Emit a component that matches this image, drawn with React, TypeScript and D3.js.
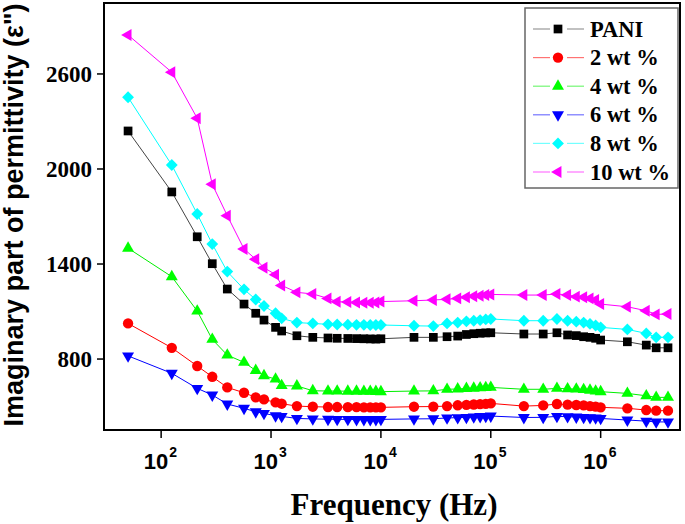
import React from "react";
import * as d3 from "d3";

const freqs = [50, 125, 213, 292, 400, 568, 726, 863, 1100, 1250, 1720, 2400, 3300, 4000, 5000, 6000, 7000, 8000, 9000, 10000,
  20000, 30000, 40000, 50000, 60000, 70000, 80000, 90000, 100000,
  200000, 300000, 400000, 500000, 600000, 700000, 800000, 900000, 1000000,
  1750000, 2600000, 3200000, 4100000];

const pani = [2240, 1855, 1572, 1402, 1242, 1147, 1089, 1046, 1000, 977, 947, 937, 933, 931, 930, 929, 928, 927, 926, 928,
  937, 937, 941, 945, 955, 960, 963, 965, 966,
  958, 958, 966, 952, 948, 941, 937, 931, 920,
  909, 888, 871, 871];
const wt2 = [1025, 871, 756, 688, 621, 587, 558, 545, 526, 518, 503, 499, 497, 497, 496, 496, 495, 495, 495, 495,
  499, 500, 503, 508, 511, 513, 515, 517, 520,
  503, 507, 516, 512, 510, 507, 503, 500, 495,
  489, 478, 474, 474];
const wt4 = [1500, 1320, 1103, 924, 825, 779, 728, 695, 673, 632, 630, 600, 598, 598, 597, 597, 596, 596, 595, 594,
  598, 599, 609, 611, 614, 616, 618, 620, 621,
  609, 609, 615, 612, 610, 607, 603, 598, 594,
  583, 568, 558, 558];
const wt6 = [820, 710, 615, 573, 516, 489, 467, 457, 442, 438, 425, 422, 420, 419, 419, 418, 418, 418, 418, 419,
  422, 423, 428, 430, 432, 435, 437, 438, 440,
  431, 432, 438, 436, 434, 432, 430, 428, 425,
  415, 408, 403, 403];
const wt8 = [2453, 2025, 1716, 1526, 1352, 1240, 1176, 1135, 1089, 1057, 1030, 1025, 1019, 1018, 1017, 1016, 1016, 1015, 1015, 1015,
  1010, 1008, 1025, 1030, 1038, 1042, 1046, 1050, 1053,
  1042, 1042, 1053, 1042, 1036, 1030, 1022, 1012, 1000,
  987, 962, 937, 937];
const wt10 = [2846, 2611, 2320, 1903, 1705, 1495, 1430, 1377, 1333, 1265, 1221, 1211, 1183, 1162, 1160, 1157, 1155, 1155, 1157, 1163,
  1168, 1173, 1177, 1183, 1190, 1196, 1200, 1204, 1208,
  1204, 1204, 1211, 1204, 1194, 1190, 1183, 1173, 1147,
  1130, 1105, 1082, 1084];

const seriesNames = ["PANI", "2 wt %", "4 wt %", "6 wt %", "8 wt %", "10 wt %"];
const seriesValues = [pani, wt2, wt4, wt6, wt8, wt10];
const seriesColors = ["#000000", "#ff0000", "#00ff00", "#0000ff", "#00ffff", "#ff00ff"];
const lineColors = ["#444444", "#ff0000", "#00ee00", "#0000ff", "#00ffff", "#ff00ff"];
const yTicks = [800, 1400, 2000, 2600];
const xTickExps = [2, 3, 4, 5, 6];

const W = 685, H = 524;
const L = 104, R = 680, T = 3, B = 430;

function markerPath(i: number): { d: string; rot: number } {
  switch (i) {
    case 0: return { d: d3.symbol(d3.symbolSquare, 76)()!, rot: 0 };
    case 1: return { d: d3.symbol(d3.symbolCircle, 84)()!, rot: 0 };
    case 2: return { d: d3.symbol(d3.symbolTriangle, 62)()!, rot: 0 };
    case 3: return { d: d3.symbol(d3.symbolTriangle, 62)()!, rot: 180 };
    case 4: return { d: d3.symbol(d3.symbolSquare, 70)()!, rot: 45 };
    default: return { d: d3.symbol(d3.symbolTriangle, 62)()!, rot: -90 };
  }
}

export default function App() {
  const x = d3.scaleLog().domain([Math.pow(10, 1.48), Math.pow(10, 6.722)]).range([L, R]);
  const y = d3.scaleLinear().domain([352, 3048]).range([B, T]);
  const line = d3.line<[number, number]>().x(d => x(d[0])).y(d => y(d[1]));

  return (
    <svg width={W} height={H} style={{ position: "absolute", left: 0, top: 0 }}>
      <rect x={0} y={0} width={W} height={H} fill="#fff" />
      {seriesValues.map((vals, i) => {
        const pts = freqs.map((f, j) => [f, vals[j]] as [number, number]);
        const m = markerPath(i);
        return (
          <g key={i}>
            <path d={line(pts)!} fill="none" stroke={lineColors[i]} strokeWidth={1} />
            {pts.map((p, j) => (
              <path key={j} d={m.d} fill={seriesColors[i]}
                transform={`translate(${x(p[0])},${y(p[1])}) rotate(${m.rot})`} />
            ))}
          </g>
        );
      })}
      {/* frame */}
      <rect x={L} y={T} width={R - L} height={B - T} fill="none" stroke="#000" strokeWidth={2} />
      {/* y ticks */}
      {yTicks.map(t => (
        <g key={t}>
          <line x1={L - 7} x2={L} y1={y(t)} y2={y(t)} stroke="#000" strokeWidth={1.5} />
          <text x={L - 12} y={y(t) + 8} textAnchor="end" fontFamily="'Liberation Serif', 'Times New Roman', serif"
            fontWeight="bold" fontSize={23}>{t}</text>
        </g>
      ))}
      {/* x ticks */}
      {xTickExps.map(e => {
        const px = x(Math.pow(10, e));
        return (
          <g key={e}>
            <line x1={px} x2={px} y1={B} y2={B + 8} stroke="#000" strokeWidth={1.5} />
            <text x={px + 7} y={469} textAnchor="end" fontFamily="'Liberation Sans', Arial, sans-serif"
              fontWeight="bold" fontSize={22}>10</text>
            <text x={px + 8} y={457} textAnchor="start" fontFamily="'Liberation Sans', Arial, sans-serif"
              fontWeight="bold" fontSize={14}>{e}</text>
          </g>
        );
      })}
      {/* axis titles */}
      <text x={394} y={515} textAnchor="middle" fontFamily="'Liberation Serif', 'Times New Roman', serif"
        fontWeight="bold" fontSize={31}>Frequency (Hz)</text>
      <text transform={`translate(23,215) rotate(-90)`} textAnchor="middle"
        fontFamily="'Liberation Sans', Arial, sans-serif" fontWeight="bold" fontSize={27}>
        Imaginary part of permittivity (ε")
      </text>
      {/* legend */}
      <rect x={525} y={8} width={153} height={180} fill="#fff" stroke="#666" strokeWidth={1.5} />
      {seriesNames.map((n, i) => {
        const cy = 29 + i * 28.6;
        const m = markerPath(i);
        return (
          <g key={n}>
            <line x1={533} x2={550} y1={cy} y2={cy} stroke={lineColors[i]} strokeOpacity={0.55} strokeWidth={1.2} />
            <line x1={567} x2={584} y1={cy} y2={cy} stroke={lineColors[i]} strokeOpacity={0.55} strokeWidth={1.2} />
            <path d={m.d} fill={seriesColors[i]} transform={`translate(558,${cy}) rotate(${m.rot})`} />
            <text x={590} y={cy + 7.5} fontFamily="'Liberation Serif', 'Times New Roman', serif"
              fontWeight="bold" fontSize={22.5}>{n}</text>
          </g>
        );
      })}
    </svg>
  );
}
